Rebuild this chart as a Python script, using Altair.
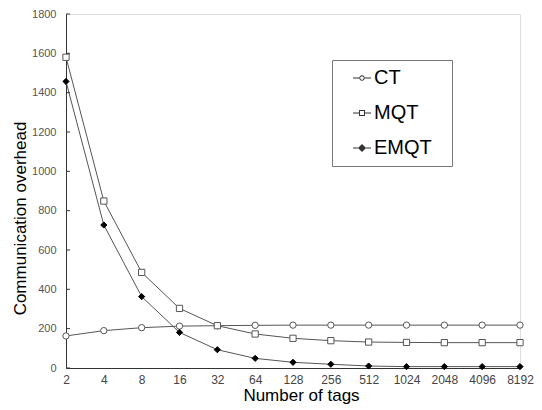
import altair as alt
import pandas as pd

tags = ["2", "4", "8", "16", "32", "64", "128", "256", "512", "1024", "2048", "4096", "8192"]
ct = [163, 190, 205, 213, 215, 217, 218, 218, 218, 218, 218, 218, 218]
mqt = [1580, 849, 486, 303, 215, 173, 151, 139, 132, 130, 129, 129, 129]
emqt = [1457, 727, 363, 181, 93, 49, 29, 19, 10, 7, 7, 7, 7]
series_names = ["CT", "MQT", "EMQT"]
y_ticks = [0, 200, 400, 600, 800, 1000, 1200, 1400, 1600, 1800]

rows = []
for name, vals in zip(series_names, [ct, mqt, emqt]):
    for t, v in zip(tags, vals):
        rows.append({"tags": t, "value": v, "series": name, "lg": name})
df = pd.DataFrame(rows)

FONT = "Liberation Sans"
PLOT_W, PLOT_H = 454, 354
LEFT = 58

x_enc = alt.X(
    "tags:N", sort=tags,
    scale=alt.Scale(type="point", padding=0),
    axis=alt.Axis(title="Number of tags", labelAngle=0, ticks=False, tickSize=0,
                  labelPadding=6, labelFontSize=12, labelColor="#444", labelFont=FONT,
                  titleFontSize=17, titleFont=FONT, titleFontWeight="normal", titleColor="#000",
                  titlePadding=2, titleX=301 - (LEFT + 8), domainColor="#333", grid=False),
)
y_axis = alt.Axis(title="Communication overhead", values=y_ticks, format="d", ticks=False, tickSize=0,
                  labelPadding=10, labelFontSize=11, labelColor="#555", labelFont=FONT,
                  titleFontSize=17, titleFont=FONT, titleFontWeight="normal", titleColor="#000",
                  titleBaseline="alphabetic", titleX=-(LEFT + 8 - 25), titleY=204,
                  domainColor="#333", grid=False)
y_scale = alt.Scale(domain=[0, 1800], nice=False)
y_enc = alt.Y("value:Q", scale=y_scale, axis=y_axis)

base = alt.Chart(df)

lines = base.mark_line(color="#555", strokeWidth=1).encode(
    x=x_enc, y=y_enc, detail="series:N"
)

points = base.mark_point(strokeWidth=1, opacity=1, filled=False).encode(
    x=x_enc, y=y_enc,
    shape=alt.Shape("series:N", scale=alt.Scale(domain=series_names, range=["circle", "square", "diamond"]), legend=None),
    fill=alt.Fill("series:N", scale=alt.Scale(domain=series_names, range=["white", "white", "black"]), legend=None),
    stroke=alt.Stroke("series:N", scale=alt.Scale(domain=series_names, range=["#555", "#555", "black"]), legend=None),
    size=alt.Size("series:N", scale=alt.Scale(domain=series_names, range=[40, 38, 55]), legend=None),
)

p_ct = ("M-1,-0.06H-0.3V0.06H-1Z M0.3,-0.06H1V0.06H0.3Z "
        "M-0.3,0A0.3,0.3 0 1,0 0.3,0A0.3,0.3 0 1,0 -0.3,0Z "
        "M-0.2,0A0.2,0.2 0 1,1 0.2,0A0.2,0.2 0 1,1 -0.2,0Z")
p_mqt = ("M-1,-0.06H-0.33V0.06H-1Z M0.33,-0.06H1V0.06H0.33Z "
         "M-0.33,-0.33H0.33V0.33H-0.33Z M-0.22,-0.22V0.22H0.22V-0.22Z")
p_emqt = ("M-1,-0.06H-0.45V0.06H-1Z M0.45,-0.06H1V0.06H0.45Z "
          "M0,-0.45L0.45,0L0,0.45L-0.45,0Z")

legend_layer = base.mark_point(filled=True, fill="#333", opacity=0, size=324, strokeWidth=0).encode(
    x=x_enc, y=y_enc,
    shape=alt.Shape(
        "lg:N",
        scale=alt.Scale(domain=series_names, range=[p_ct, p_mqt, p_emqt]),
        legend=alt.Legend(
            title=".", titleOrient="right", titleFontSize=10, titlePadding=9,
            titleColor="white",
            orient="none", legendX=332 - (LEFT + 8), legendY=46,
            padding=8, symbolOffset=12, rowPadding=15, labelOffset=2,
            symbolSize=324, symbolOpacity=1, symbolFillColor="#333", symbolStrokeWidth=0,
            labelFontSize=20, labelFont=FONT, labelColor="#000", labelBaseline="middle",
            strokeColor="#777", fillColor="white",
        ),
    ),
)

tick_df = pd.DataFrame({"v": y_ticks})
tick_rules = alt.Chart(tick_df).mark_rule(color="#333", strokeWidth=1).encode(
    y=alt.Y("v:Q", scale=y_scale, axis=y_axis),
    x=alt.value(0), x2=alt.value(4),
)

chart = alt.layer(lines, points, legend_layer, tick_rules).resolve_scale(
    shape="independent", fill="independent", stroke="independent", size="independent"
).properties(
    width=PLOT_W, height=PLOT_H,
    autosize=alt.AutoSizeParams(type="none"),
    padding={"left": LEFT, "top": 6, "right": 526 - LEFT - PLOT_W, "bottom": 40},
).configure_view(stroke=None).configure(background="white")

chart.save("out.html", embed_options={"renderer": "svg", "actions": False})
